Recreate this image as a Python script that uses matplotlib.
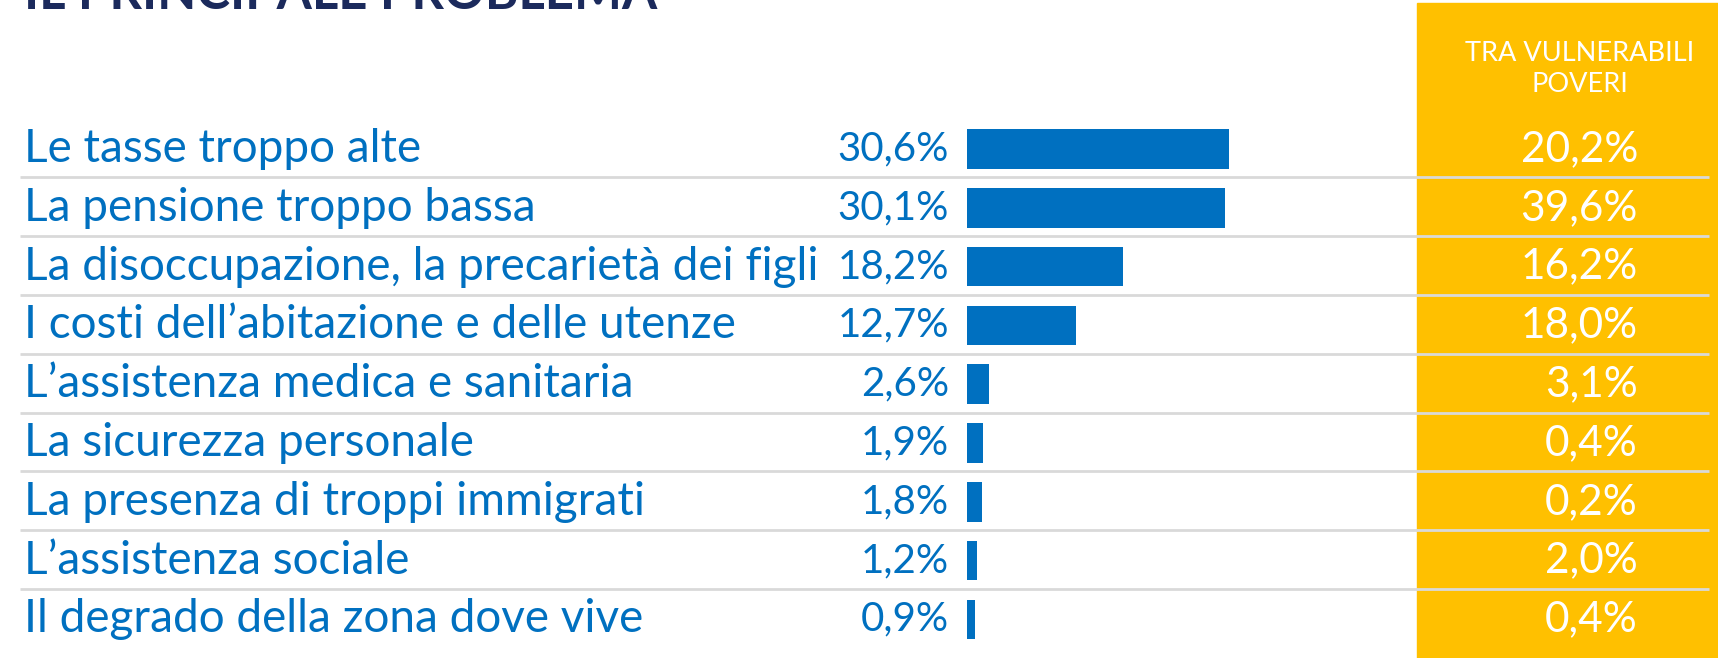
import matplotlib
matplotlib.use("Agg")
import matplotlib.pyplot as plt
from matplotlib.patches import Rectangle

# --- DATI ---
voci = [
    "Le tasse troppo alte",
    "La pensione troppo bassa",
    "La disoccupazione, la precarietà dei figli",
    "I costi dell’abitazione e delle utenze",
    "L’assistenza medica e sanitaria",
    "La sicurezza personale",
    "La presenza di troppi immigrati",
    "L’assistenza sociale",
    "Il degrado della zona dove vive",
]
totale = [30.6, 30.1, 18.2, 12.7, 2.6, 1.9, 1.8, 1.2, 0.9]
vulnerabili = [20.2, 39.6, 16.2, 18.0, 3.1, 0.4, 0.2, 2.0, 0.4]

titolo = "IL PRINCIPALE PROBLEMA"
intestazione = "TRA VULNERABILI\nPOVERI"

# --- STILE ---
BLU = "#0070C0"
GIALLO = "#FFC000"
NAVY = "#1B2A5C"
GRIGIO = "#D9D9D9"
FONT = "Lato"

W, H = 1718, 658
Y0, PASSO = 149, 58.8  # centro prima riga, distanza tra righe (px)


def pct(v):
    return f"{v:.1f}".replace(".", ",") + "%"


plt.rcParams["font.family"] = FONT
fig = plt.figure(figsize=(W / 100, H / 100), dpi=100)

# assi principali in pixel
ax = fig.add_axes([0, 0, 1, 1])
ax.set_xlim(0, W)
ax.set_ylim(H, 0)
ax.axis("off")

righe = [Y0 + i * PASSO for i in range(len(voci))]

# colonna gialla
ax.add_patch(Rectangle((1417, 3.3), W - 1417, H, color=GIALLO, zorder=0))

# separatori
sep = [y + PASSO / 2 - 1 for y in righe[:-1]]
ax.hlines(sep, 20, 1709, color=GRIGIO, lw=2, zorder=1)

# titolo (tagliato in alto, come nell'originale)
ax.text(24, 9, titolo, color=NAVY, fontsize=36.5, fontweight="bold",
        va="baseline", ha="left")

ax.text(1580, 69, intestazione, color="white", fontsize=19.5,
        ha="center", va="center", linespacing=1.3)

for y, voce, t, v in zip(righe, voci, totale, vulnerabili):
    ax.text(24, y, voce, color=BLU, fontsize=33, va="center", ha="left")
    ax.text(949, y, pct(t), color=BLU, fontsize=29, va="center", ha="right")
    ax.text(1638, y, pct(v), color="white", fontsize=30.5, va="center", ha="right")

# barre
ax_bar = fig.add_axes([967 / W, 0, (1417 - 967) / W, 1])
ax_bar.set_xlim(0, 450 / 8.57)
ax_bar.set_ylim(H, 0)
ax_bar.axis("off")
ax_bar.barh(righe, totale, height=39.5, color=BLU)

fig.savefig("out.png", dpi=100)
